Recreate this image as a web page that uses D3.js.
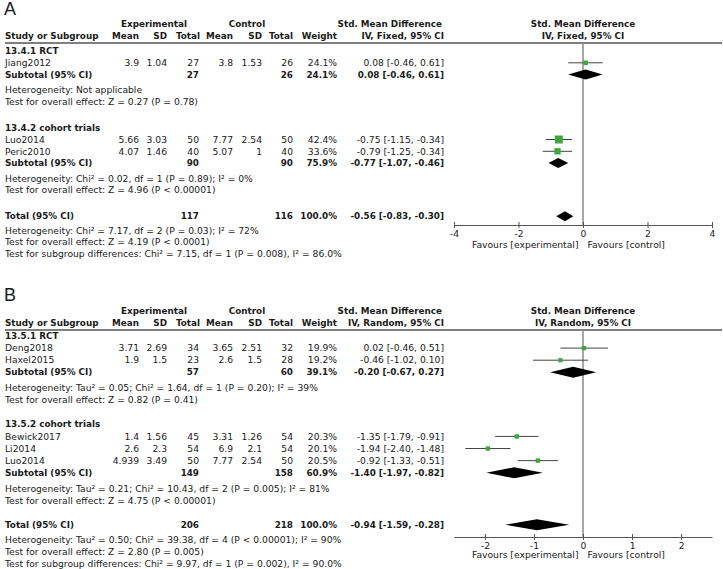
<!DOCTYPE html>
<html><head><meta charset="utf-8">
<script src="https://cdn.jsdelivr.net/npm/d3@7"></script>
<style>
body{margin:0;background:#fff;}
svg text{font-family:"DejaVu Sans",sans-serif;font-size:9.2px;fill:#1a1a1a;}
svg text.b{font-weight:bold;font-size:8.8px;}
</style></head><body><svg id="c" width="723" height="569"></svg>
<script>
// ---------- Panel A data ----------
const groupNamesA = ["13.4.1 RCT", "13.4.2 cohort trials"];
const studiesA = ["Jiang2012", "Luo2014", "Peric2010"];
const studyGroupA = [0, 1, 1];
const expMeanA = [3.9, 5.66, 4.07];
const expSDA = [1.04, 3.03, 1.46];
const expNA = [27, 50, 40];
const ctlMeanA = [3.8, 7.77, 5.07];
const ctlSDA = [1.53, 2.54, 1];
const ctlNA = [26, 50, 40];
const weightA = [24.1, 42.4, 33.6];
const smdA = [0.08, -0.75, -0.79];
const lowA = [-0.46, -1.15, -1.25];
const highA = [0.61, -0.34, -0.34];
const subExpNA = [27, 90];
const subCtlNA = [26, 90];
const subWeightA = [24.1, 75.9];
const subSmdA = [0.08, -0.77];
const subLowA = [-0.46, -1.07];
const subHighA = [0.61, -0.46];
const subHetA = ["Heterogeneity: Not applicable", "Heterogeneity: Chi² = 0.02, df = 1 (P = 0.89); I² = 0%"];
const subTestA = ["Test for overall effect: Z = 0.27 (P = 0.78)", "Test for overall effect: Z = 4.96 (P < 0.00001)"];
const totalA = {expN: 117, ctlN: 116, weight: 100.0, smd: -0.56, low: -0.83, high: -0.30};
const totalTextA = ["Heterogeneity: Chi² = 7.17, df = 2 (P = 0.03); I² = 72%",
  "Test for overall effect: Z = 4.19 (P < 0.0001)",
  "Test for subgroup differences: Chi² = 7.15, df = 1 (P = 0.008), I² = 86.0%"];
const ticksA = [-4, -2, 0, 2, 4];
const domainA = [-4, 4];

// ---------- Panel B data ----------
const groupNamesB = ["13.5.1 RCT", "13.5.2 cohort trials"];
const studiesB = ["Deng2018", "Haxel2015", "Bewick2017", "Li2014", "Luo2014"];
const studyGroupB = [0, 0, 1, 1, 1];
const expMeanB = [3.71, 1.9, 1.4, 2.6, 4.939];
const expSDB = [2.69, 1.5, 1.56, 2.3, 3.49];
const expNB = [34, 23, 45, 54, 50];
const ctlMeanB = [3.65, 2.6, 3.31, 6.9, 7.77];
const ctlSDB = [2.51, 1.5, 1.26, 2.1, 2.54];
const ctlNB = [32, 28, 54, 54, 50];
const weightB = [19.9, 19.2, 20.3, 20.1, 20.5];
const smdB = [0.02, -0.46, -1.35, -1.94, -0.92];
const lowB = [-0.46, -1.02, -1.79, -2.40, -1.33];
const highB = [0.51, 0.10, -0.91, -1.48, -0.51];
const subExpNB = [57, 149];
const subCtlNB = [60, 158];
const subWeightB = [39.1, 60.9];
const subSmdB = [-0.20, -1.40];
const subLowB = [-0.67, -1.97];
const subHighB = [0.27, -0.82];
const subHetB = ["Heterogeneity: Tau² = 0.05; Chi² = 1.64, df = 1 (P = 0.20); I² = 39%",
  "Heterogeneity: Tau² = 0.21; Chi² = 10.43, df = 2 (P = 0.005); I² = 81%"];
const subTestB = ["Test for overall effect: Z = 0.82 (P = 0.41)", "Test for overall effect: Z = 4.75 (P < 0.00001)"];
const totalB = {expN: 206, ctlN: 218, weight: 100.0, smd: -0.94, low: -1.59, high: -0.28};
const totalTextB = ["Heterogeneity: Tau² = 0.50; Chi² = 39.38, df = 4 (P < 0.00001); I² = 90%",
  "Test for overall effect: Z = 2.80 (P = 0.005)",
  "Test for subgroup differences: Chi² = 9.97, df = 1 (P = 0.002), I² = 90.0%"];
const ticksB = [-2, -1, 0, 1, 2];
const domainB = [-2.63, 2.63];

// ---------- drawing ----------
const svg = d3.select("#c");
const loc = d3.formatLocale({decimal: ".", thousands: ",", grouping: [3], currency: ["", ""], minus: "-"});
const f2 = loc.format(".2f"), f1 = loc.format(".1f"), fd = loc.format("d");
const ciText = (m, l, h) => `${f2(m)} [${f2(l)}, ${f2(h)}]`;
const col = {name: 5, expMean: 139, expSD: 167, expN: 199, ctlMean: 233, ctlSD: 262, ctlN: 293, weight: 337, ci: 444};
const GREEN = "#3ea73e";

function drawPanel(p) {
  const g = svg.append("g");
  const x = d3.scaleLinear().domain(p.domain).range([454, 712]);
  const y = d3.scaleLinear().domain([0, 1]).range([p.top, p.top + p.unit]);
  const wScale = d3.scaleLinear().domain([0, d3.max(p.weight)]).range([0, p.maxBox]);

  const txt = (xx, yy, s, anchor, bold) => g.append("text").attr("x", xx).attr("y", yy)
    .attr("dy", "0.35em").attr("text-anchor", anchor || "start").attr("class", bold ? "b" : null).text(s);

  // panel label
  g.append("text").attr("x", 4).attr("y", p.labelY).attr("dy", "0.35em")
    .style("font-family", "'Liberation Sans', Arial, sans-serif").style("font-size", "18px").text(p.label);

  // header
  txt(154, p.h1, "Experimental", "middle", true);
  txt(247, p.h1, "Control", "middle", true);
  txt(442, p.h1, "Std. Mean Difference", "end", true);
  txt(x(0), p.h1, "Std. Mean Difference", "middle", true);
  txt(col.name, p.h2, "Study or Subgroup", "start", true);
  [["Mean", col.expMean], ["SD", col.expSD], ["Total", col.expN + 1], ["Mean", col.ctlMean], ["SD", col.ctlSD],
   ["Total", col.ctlN], ["Weight", col.weight]].forEach(d => txt(d[1], p.h2, d[0], "end", true));
  txt(col.ci, p.h2, p.method, "end", true);
  txt(x(0), p.h2, p.method, "middle", true);
  g.append("line").attr("x1", 5).attr("x2", 722).attr("y1", p.rule).attr("y2", p.rule)
    .attr("stroke", "#555").attr("stroke-width", 1.5);

  // zero line
  g.append("line").attr("x1", x(0)).attr("x2", x(0)).attr("y1", p.rule).attr("y2", p.axisY)
    .attr("stroke", "#8a8a8a").attr("stroke-width", 1.5);

  // rows
  let k = 0;
  const diamond = (m, l, h, yy) => g.append("path")
    .attr("d", `M${x(l)},${yy}L${x(m)},${yy - p.dh}L${x(h)},${yy}L${x(m)},${yy + p.dh}Z`).attr("fill", "#000");

  p.groups.forEach((gname, gi) => {
    txt(col.name, y(k), gname, "start", true);
    k += 1;
    p.studies.forEach((s, i) => {
      if (p.studyGroup[i] !== gi) return;
      const yy = y(k);
      txt(col.name, yy, s);
      txt(col.expMean, yy, String(p.expMean[i]), "end");
      txt(col.expSD, yy, String(p.expSD[i]), "end");
      txt(col.expN, yy, String(p.expN[i]), "end");
      txt(col.ctlMean, yy, String(p.ctlMean[i]), "end");
      txt(col.ctlSD, yy, String(p.ctlSD[i]), "end");
      txt(col.ctlN, yy, String(p.ctlN[i]), "end");
      txt(col.weight, yy, f1(p.weight[i]) + "%", "end");
      txt(col.ci, yy, ciText(p.smd[i], p.low[i], p.high[i]), "end");
      g.append("line").attr("x1", x(p.low[i])).attr("x2", x(p.high[i])).attr("y1", yy).attr("y2", yy)
        .attr("stroke", "#444").attr("stroke-width", 1);
      const s2 = wScale(p.weight[i]);
      g.append("rect").attr("x", x(p.smd[i]) - s2 / 2).attr("y", yy - s2 / 2).attr("width", s2).attr("height", s2)
        .attr("fill", GREEN);
      k += 1;
    });
    const yy = y(k);
    txt(col.name, yy, "Subtotal (95% CI)", "start", true);
    txt(col.expN, yy, String(p.subExpN[gi]), "end", true);
    txt(col.ctlN, yy, String(p.subCtlN[gi]), "end", true);
    txt(col.weight, yy, f1(p.subWeight[gi]) + "%", "end", true);
    txt(col.ci, yy, ciText(p.subSmd[gi], p.subLow[gi], p.subHigh[gi]), "end", true);
    diamond(p.subSmd[gi], p.subLow[gi], p.subHigh[gi], yy);
    k += 1.3;
    txt(col.name, y(k), p.subHet[gi]);
    k += 1;
    txt(col.name, y(k), p.subTest[gi]);
    k += p.gap;
  });
  const yt = y(k);
  txt(col.name, yt, "Total (95% CI)", "start", true);
  txt(col.expN, yt, String(p.total.expN), "end", true);
  txt(col.ctlN, yt, String(p.total.ctlN), "end", true);
  txt(col.weight, yt, f1(p.total.weight) + "%", "end", true);
  txt(col.ci, yt, ciText(p.total.smd, p.total.low, p.total.high), "end", true);
  diamond(p.total.smd, p.total.low, p.total.high, yt);
  k += 1.2;
  p.totalText.forEach(t => { txt(col.name, y(k), t); k += 1; });

  // axis
  const ax = g.append("g").attr("transform", `translate(0,${p.axisY})`)
    .call(d3.axisBottom(x).tickValues(p.ticks).tickSize(3).tickSizeOuter(0).tickFormat(fd));
  ax.select(".domain").attr("stroke", "#555").attr("stroke-width", 1.2);
  ax.selectAll(".tick line").attr("y1", -3).attr("y2", 3).attr("stroke", "#555");
  ax.selectAll(".tick text").attr("y", 5).attr("dy", "0.71em")
    .style("font-family", "'DejaVu Sans',sans-serif").style("font-size", "9.2px").attr("fill", "#1a1a1a");
  txt(x(0) - 4.5, p.favY, "Favours [experimental]", "end");
  txt(x(0) + 4.5, p.favY, "Favours [control]", "start");
}

drawPanel({
  label: "A", labelY: 9, h1: 24, h2: 36, rule: 43, top: 51, unit: 11.8, gap: 2.2,
  axisY: 225, favY: 245, domain: domainA, ticks: ticksA, maxBox: 8, dh: 5,
  method: "IV, Fixed, 95% CI",
  groups: groupNamesA, studies: studiesA, studyGroup: studyGroupA,
  expMean: expMeanA, expSD: expSDA, expN: expNA, ctlMean: ctlMeanA, ctlSD: ctlSDA, ctlN: ctlNA,
  weight: weightA, smd: smdA, low: lowA, high: highA,
  subExpN: subExpNA, subCtlN: subCtlNA, subWeight: subWeightA, subSmd: subSmdA, subLow: subLowA, subHigh: subHighA,
  subHet: subHetA, subTest: subTestA, total: totalA, totalText: totalTextA
});
drawPanel({
  label: "B", labelY: 295, h1: 311, h2: 323, rule: 330, top: 336, unit: 12.1, gap: 2.0,
  axisY: 537, favY: 555, domain: domainB, ticks: ticksB, maxBox: 4.5, dh: 5.5,
  method: "IV, Random, 95% CI",
  groups: groupNamesB, studies: studiesB, studyGroup: studyGroupB,
  expMean: expMeanB, expSD: expSDB, expN: expNB, ctlMean: ctlMeanB, ctlSD: ctlSDB, ctlN: ctlNB,
  weight: weightB, smd: smdB, low: lowB, high: highB,
  subExpN: subExpNB, subCtlN: subCtlNB, subWeight: subWeightB, subSmd: subSmdB, subLow: subLowB, subHigh: subHighB,
  subHet: subHetB, subTest: subTestB, total: totalB, totalText: totalTextB
});
</script></body></html>
